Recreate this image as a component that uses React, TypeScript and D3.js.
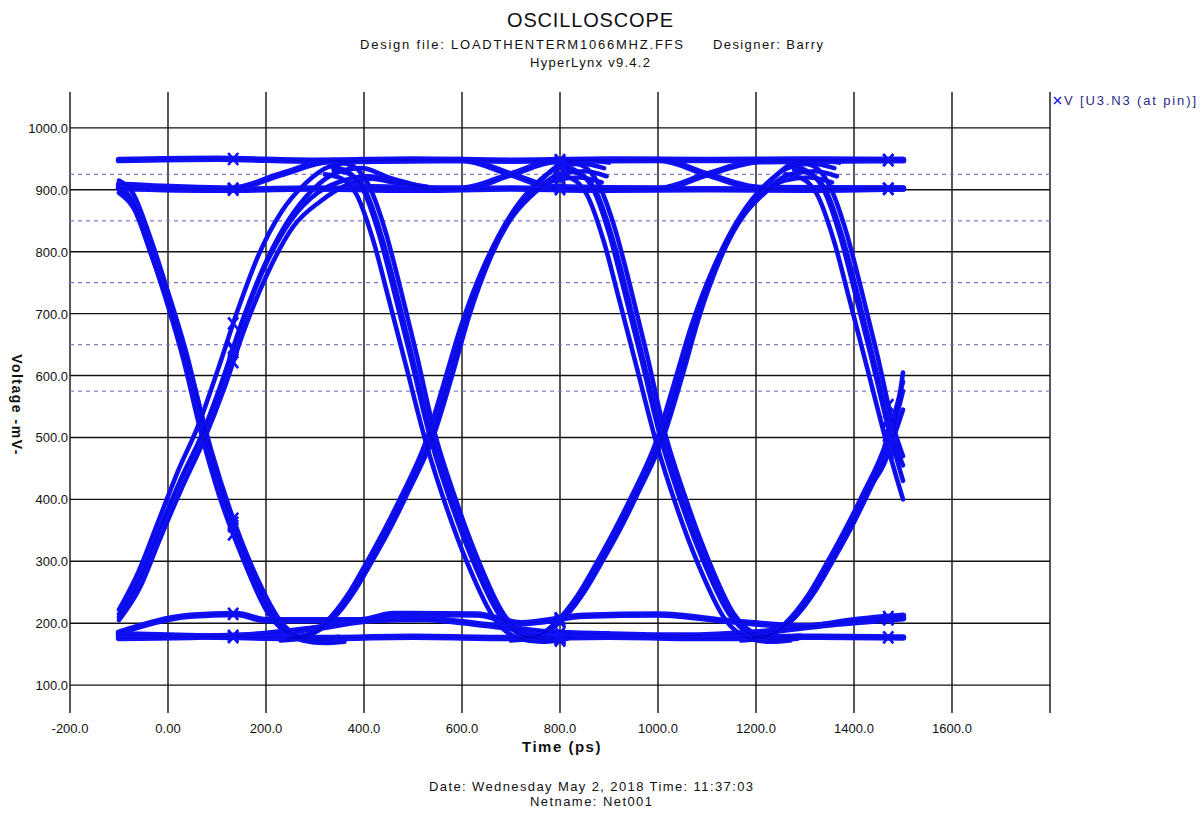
import React, { useEffect, useRef } from 'react';
import * as d3 from 'd3';

type Pt = [number, number];

// axis values
const xGridValues = [-200, 0, 200, 400, 600, 800, 1000, 1200, 1400, 1600, 1800];
const xTickValues = [-200, 0, 200, 400, 600, 800, 1000, 1200, 1400, 1600];
const xTickLabels = ['-200.0', '0.00', '200.0', '400.0', '600.0', '800.0', '1000.0', '1200.0', '1400.0', '1600.0'];
const yTickValues = [100, 200, 300, 400, 500, 600, 700, 800, 900, 1000];
const yTickLabels = ['100.0', '200.0', '300.0', '400.0', '500.0', '600.0', '700.0', '800.0', '900.0', '1000.0'];
const thresholdLevels = [925, 850, 750, 650, 575];
const markerTimes = [133, 800, 1470];

// waveform traces, [time ps, voltage mV]
const fall0: Pt[][] = [
  [[-100, 905], [-75, 885], [-40, 810], [-5, 725], [30, 630], [70, 500], [105, 405], [150, 310], [205, 215], [255, 180], [300, 172], [340, 174]],
  [[-100, 915], [-72, 895], [-35, 820], [0, 735], [38, 635], [78, 505], [115, 405], [160, 305], [215, 210], [265, 180], [310, 176], [350, 178]],
  [[-100, 895], [-70, 870], [-32, 790], [5, 705], [42, 605], [82, 480], [120, 385], [168, 290], [225, 200], [275, 172], [320, 168], [360, 170]],
  [[-100, 900], [-68, 875], [-28, 795], [10, 700], [48, 600], [88, 480], [128, 380], [175, 285], [235, 198], [285, 175], [330, 172]],
];
const rise0: Pt[][] = [
  [[-100, 210], [-60, 265], [-20, 345], [25, 430], [70, 505], [110, 590], [150, 685], [195, 775], [245, 850], [295, 900], [345, 928], [395, 935], [450, 920], [520, 905]],
  [[-100, 222], [-62, 280], [-22, 360], [20, 445], [62, 520], [102, 610], [142, 705], [185, 795], [232, 865], [280, 910], [330, 938], [380, 945], [430, 948], [500, 948]],
  [[-100, 205], [-57, 258], [-17, 335], [28, 418], [74, 497], [115, 580], [156, 675], [203, 765], [255, 840], [312, 882], [365, 908], [415, 918], [470, 910], [530, 903]],
  [[-100, 215], [-59, 272], [-19, 348], [26, 432], [71, 508], [113, 595], [154, 690], [200, 780], [252, 852], [305, 895], [358, 915], [410, 922], [470, 912], [530, 905]],
];
const fall1: Pt[][] = [
  [[330, 938], [365, 930], [395, 905], [430, 830], [460, 740], [495, 630], [535, 500], [575, 400], [620, 305], [675, 215], [725, 180], [770, 174], [810, 176]],
  [[345, 945], [378, 938], [408, 910], [443, 835], [473, 745], [507, 635], [545, 505], [585, 405], [630, 308], [685, 215], [735, 182], [780, 178], [820, 180]],
  [[320, 925], [355, 918], [385, 892], [420, 815], [450, 725], [486, 615], [527, 490], [567, 390], [612, 295], [668, 205], [718, 175], [762, 170], [800, 172]],
  [[338, 932], [372, 925], [402, 900], [437, 822], [467, 732], [501, 622], [541, 495], [581, 395], [626, 300], [682, 210], [732, 178], [776, 173], [815, 175]],
];
const rise1: Pt[][] = [
  [[240, 175], [285, 180], [330, 205], [375, 250], [412, 300], [450, 355], [484, 410], [535, 500], [570, 590], [606, 690], [650, 785], [700, 860], [745, 905], [795, 935], [845, 942], [890, 935]],
  [[250, 178], [295, 184], [340, 210], [383, 255], [420, 305], [458, 360], [492, 415], [543, 505], [578, 595], [614, 695], [658, 790], [708, 865], [755, 910], [805, 942], [855, 948], [900, 944]],
  [[230, 172], [275, 176], [320, 200], [366, 245], [403, 295], [441, 350], [476, 405], [527, 495], [562, 585], [598, 680], [642, 772], [692, 845], [738, 888], [788, 915], [838, 920], [885, 912]],
  [[245, 176], [290, 182], [335, 207], [380, 252], [416, 302], [454, 357], [488, 412], [539, 502], [574, 592], [610, 692], [654, 787], [704, 858], [750, 898], [800, 925], [850, 930], [895, 922]],
];
const fall2: Pt[][] = [
  [[800, 938], [835, 930], [865, 905], [900, 830], [930, 740], [965, 630], [1005, 500], [1045, 400], [1090, 305], [1145, 215], [1195, 180], [1240, 174], [1280, 176]],
  [[815, 945], [848, 938], [878, 910], [913, 835], [943, 745], [977, 635], [1015, 505], [1055, 405], [1100, 308], [1155, 215], [1205, 182], [1250, 178], [1290, 180]],
  [[790, 925], [825, 918], [855, 892], [890, 815], [920, 725], [956, 615], [997, 490], [1037, 390], [1082, 295], [1138, 205], [1188, 175], [1232, 170], [1270, 172]],
  [[808, 932], [842, 925], [872, 900], [907, 822], [937, 732], [971, 622], [1011, 495], [1051, 395], [1096, 300], [1152, 210], [1202, 178], [1246, 173], [1285, 175]],
];
const rise2: Pt[][] = [
  [[710, 175], [755, 180], [800, 205], [845, 250], [882, 300], [920, 355], [954, 410], [1005, 500], [1040, 590], [1076, 690], [1120, 785], [1170, 860], [1215, 905], [1265, 935], [1315, 942], [1360, 935]],
  [[720, 178], [765, 184], [810, 210], [853, 255], [890, 305], [928, 360], [962, 415], [1013, 505], [1048, 595], [1084, 695], [1128, 790], [1178, 865], [1225, 910], [1275, 942], [1325, 948], [1370, 944]],
  [[700, 172], [745, 176], [790, 200], [836, 245], [873, 295], [911, 350], [946, 405], [997, 495], [1032, 585], [1068, 680], [1112, 772], [1162, 845], [1208, 888], [1258, 915], [1308, 920], [1355, 912]],
  [[715, 176], [760, 182], [805, 207], [850, 252], [886, 302], [924, 357], [958, 412], [1009, 502], [1044, 592], [1080, 692], [1124, 787], [1174, 858], [1220, 898], [1270, 925], [1320, 930], [1365, 922]],
];
const fall3: Pt[][] = [
  [[1270, 938], [1305, 930], [1335, 905], [1370, 830], [1400, 740], [1435, 630], [1475, 500], [1500, 430]],
  [[1285, 945], [1318, 938], [1348, 910], [1383, 835], [1413, 745], [1447, 635], [1485, 505], [1500, 470]],
  [[1260, 925], [1295, 918], [1325, 892], [1360, 815], [1390, 725], [1426, 615], [1467, 490], [1500, 400]],
  [[1278, 932], [1312, 925], [1342, 900], [1377, 822], [1407, 732], [1441, 622], [1481, 495], [1500, 455]],
];
const rise3: Pt[][] = [
  [[1180, 175], [1225, 180], [1270, 205], [1315, 250], [1352, 300], [1390, 355], [1424, 410], [1475, 500], [1500, 575]],
  [[1190, 178], [1235, 184], [1280, 210], [1323, 255], [1360, 305], [1398, 360], [1432, 415], [1483, 505], [1500, 545]],
  [[1170, 172], [1215, 176], [1260, 200], [1306, 245], [1343, 295], [1381, 350], [1416, 405], [1467, 495], [1500, 590]],
  [[1185, 176], [1230, 182], [1275, 207], [1320, 252], [1356, 302], [1394, 357], [1428, 412], [1479, 502], [1500, 605]],
];
const highLevels: Pt[][] = [
  [[-100, 948], [100, 950], [300, 947], [500, 949], [700, 947], [900, 949], [1100, 948], [1300, 949], [1500, 948]],
  [[-100, 903], [100, 900], [300, 902], [500, 900], [700, 902], [900, 900], [1100, 901], [1300, 900], [1500, 902]],
  [[-100, 908], [130, 902], [230, 925], [330, 946], [600, 948], [700, 925], [790, 904], [1004, 902], [1100, 925], [1208, 946], [1500, 948]],
  [[380, 905], [600, 902], [700, 925], [790, 946], [1004, 948], [1100, 925], [1208, 903], [1500, 902]],
];
const lowLevels: Pt[][] = [
  [[-100, 182], [100, 178], [300, 176], [500, 178], [700, 176], [900, 178], [1100, 176], [1300, 178], [1500, 177]],
  [[-100, 185], [45, 212], [140, 215], [200, 205], [393, 205], [460, 215], [630, 214], [720, 200], [850, 212], [1000, 214], [1150, 203], [1300, 195], [1400, 205], [1500, 212]],
  [[-100, 176], [150, 180], [300, 192], [420, 205], [520, 207], [650, 197], [780, 185], [900, 182], [1050, 180], [1200, 185], [1350, 198], [1500, 208]],
];

const allTraces: Pt[][] = [
  ...highLevels, ...lowLevels,
  ...fall0, ...rise0, ...fall1, ...rise1, ...fall2, ...rise2, ...fall3, ...rise3,
];

const FONT = "'Liberation Sans', Arial, sans-serif";
const BLUE = '#1010f6';

const Chart = ({ width = 1200, height = 814 }) => {
  const ref = useRef<SVGSVGElement>(null);

  useEffect(() => {
    const svg = d3.select(ref.current);
    svg.selectAll('*').remove();
    svg.attr('width', width).attr('height', height);

    svg.append('rect').attr('width', width).attr('height', height).attr('fill', '#fff');

    const x = d3.scaleLinear().domain([-200, 1800]).range([70, 1050]);
    const y = d3.scaleLinear().domain([55, 1058]).range([713, 92]);

    // titles
    const t = svg.append('g').attr('font-family', FONT).attr('fill', '#111').attr('text-anchor', 'middle');
    t.append('text').attr('x', 590).attr('y', 27).attr('font-size', 20)
      .attr('textLength', 166).attr('lengthAdjust', 'spacing').text('OSCILLOSCOPE');
    t.append('text').attr('x', 360).attr('y', 49).attr('font-size', 13).attr('text-anchor', 'start')
      .attr('textLength', 323).attr('lengthAdjust', 'spacing').text('Design file: LOADTHENTERM1066MHZ.FFS');
    t.append('text').attr('x', 713).attr('y', 49).attr('font-size', 13).attr('text-anchor', 'start')
      .attr('textLength', 110).attr('lengthAdjust', 'spacing').text('Designer: Barry');
    t.append('text').attr('x', 590).attr('y', 67).attr('font-size', 13)
      .attr('textLength', 120).attr('lengthAdjust', 'spacing').text('HyperLynx v9.4.2');

    // grid
    const grid = svg.append('g').attr('stroke', '#111').attr('stroke-width', 1.4);
    grid.selectAll('line.v').data(xGridValues).enter().append('line')
      .attr('x1', d => x(d)).attr('x2', d => x(d)).attr('y1', y(1058)).attr('y2', y(55));
    grid.selectAll('line.h').data(yTickValues).enter().append('line')
      .attr('x1', x(-200)).attr('x2', x(1800)).attr('y1', d => y(d)).attr('y2', d => y(d));

    svg.append('g').attr('stroke', '#7c7cc4').attr('stroke-width', 1.3).attr('stroke-dasharray', '4,4')
      .selectAll('line').data(thresholdLevels).enter().append('line')
      .attr('x1', x(-200)).attr('x2', x(1800)).attr('y1', d => y(d)).attr('y2', d => y(d));

    // tick labels
    const labels = svg.append('g').attr('font-family', FONT).attr('font-size', 13).attr('fill', '#111');
    labels.selectAll('text.y').data(yTickValues).enter().append('text')
      .attr('x', x(-200) - 2).attr('y', d => y(d) + 5).attr('text-anchor', 'end')
      .text((d, i) => yTickLabels[i]);
    labels.selectAll('text.x').data(xTickValues).enter().append('text')
      .attr('x', d => x(d)).attr('y', 733).attr('text-anchor', 'middle')
      .text((d, i) => xTickLabels[i]);

    svg.append('text').attr('font-family', FONT).attr('font-size', 15).attr('font-weight', 'bold')
      .attr('x', 562).attr('y', 752).attr('text-anchor', 'middle').attr('letter-spacing', 1.5)
      .attr('fill', '#111').text('Time (ps)');
    svg.append('text').attr('font-family', FONT).attr('font-size', 14).attr('font-weight', 'bold')
      .attr('transform', 'translate(12,405) rotate(90)').attr('text-anchor', 'middle')
      .attr('letter-spacing', 1.5).attr('fill', '#111').text('Voltage  -mV-');

    const foot = svg.append('g').attr('font-family', FONT).attr('font-size', 13).attr('fill', '#111').attr('text-anchor', 'middle');
    foot.append('text').attr('x', 591).attr('y', 791).attr('textLength', 324).attr('lengthAdjust', 'spacing')
      .text('Date: Wednesday May 2, 2018  Time: 11:37:03');
    foot.append('text').attr('x', 591).attr('y', 806).attr('textLength', 122).attr('lengthAdjust', 'spacing')
      .text('Netname: Net001');

    // legend
    const lg = svg.append('g');
    lg.append('path').attr('d', 'M1054,97 L1061,104 M1061,97 L1054,104').attr('stroke', BLUE).attr('stroke-width', 1.4);
    lg.append('text').attr('x', 1064).attr('y', 105).attr('font-family', FONT).attr('font-size', 13)
      .attr('fill', '#2a2a8a').attr('textLength', 132).attr('lengthAdjust', 'spacing').text('V [U3.N3 (at pin)]');

    // traces
    const nFlat = highLevels.length + lowLevels.length;
    const line = d3.line<Pt>().x(d => x(d[0])).y(d => y(d[1])).curve(d3.curveMonotoneX);
    const traceG = svg.append('g').attr('fill', 'none').attr('stroke', BLUE)
      .attr('stroke-linecap', 'round').attr('stroke-linejoin', 'round');
    const paths = traceG.selectAll('path').data(allTraces).enter().append('path')
      .attr('d', d => line(d) || '')
      .attr('stroke-width', (d, i) => (i < nFlat ? 6.5 : 4.6));

    // thin dark edges on the spread traces
    traceG.selectAll('path.thin').data(allTraces).enter().append('path')
      .attr('d', d => line(d) || '').attr('stroke', '#0000b0').attr('stroke-width', 0.6).attr('opacity', 0.6);

    // x markers at sample times
    const mk = svg.append('g').attr('stroke', BLUE).attr('stroke-width', 2.6);
    paths.each(function (d) {
      const node = this as SVGPathElement;
      const L = node.getTotalLength();
      markerTimes.forEach(mt => {
        if (mt < d[0][0] || mt > d[d.length - 1][0]) return;
        const px = x(mt);
        let lo = 0, hi = L;
        for (let k = 0; k < 30; k++) {
          const mid = (lo + hi) / 2;
          if (node.getPointAtLength(mid).x < px) lo = mid; else hi = mid;
        }
        const p = node.getPointAtLength((lo + hi) / 2);
        mk.append('path').attr('d', `M${p.x - 5},${p.y - 6} L${p.x + 5},${p.y + 6} M${p.x + 5},${p.y - 6} L${p.x - 5},${p.y + 6}`);
      });
    });
  });

  return <svg ref={ref} style={{ position: 'absolute', left: 0, top: 0, display: 'block' }}></svg>;
};

export default function App() {
  return <Chart />;
}
